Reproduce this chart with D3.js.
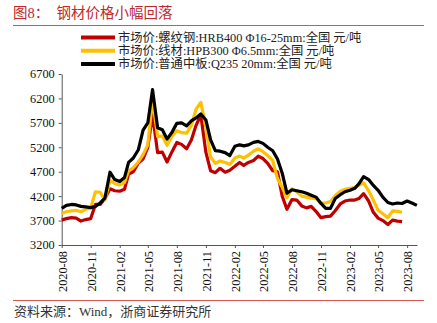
<!DOCTYPE html>
<html><head><meta charset="utf-8">
<script src="https://cdn.jsdelivr.net/npm/d3@7"></script>
<style>
body{margin:0;background:#fff;}
svg{display:block;font-family:"Liberation Serif","Noto Sans CJK SC",serif;}
</style></head><body>
<script>
// half-monthly observation dates from 2020-08-01
const startDate = "2020-08-01";
const nPoints = 75;
const rebarValues = [3710,3740,3760,3750,3690,3720,3740,4030,4030,4150,
 4350,4310,4300,4340,4650,4700,4880,4960,5200,5870,
 5090,5100,4900,5100,5300,5260,5170,5350,5650,5860,
 5100,4720,4680,4770,4690,4730,4810,4890,4830,4890,
 4930,5020,4970,4870,4720,4700,4200,3930,4130,4120,
 4000,3960,3990,3890,3760,3780,3790,3900,4040,4100,
 4120,4120,4150,4250,4100,3870,3750,3700,3620,3710,
 3690,3680];
const wireValues = [3850,3880,3900,3910,3880,3930,3960,4290,4280,4120,
 4520,4460,4430,4480,4720,4780,4900,5050,5250,6180,
 5420,5430,5240,5420,5540,5500,5490,5650,5980,6120,
 5620,5000,4870,4920,4890,4850,4980,5020,4980,5040,
 5120,5170,5110,5030,4930,4560,4380,4170,4350,4290,
 4200,4180,4160,4150,4060,4060,4090,4210,4300,4340,
 4360,4380,4420,4470,4310,4120,3910,3840,3760,3900,
 3890,3870];
const plateValues = [3950,4010,4030,4020,3990,3980,3965,3990,4060,4160,
 4690,4540,4500,4580,4890,4980,5150,5550,5700,6380,
 5600,5560,5370,5500,5690,5700,5640,5740,5800,5880,
 5760,5350,5130,5120,5090,5030,5220,5250,5230,5250,
 5300,5320,5280,5200,5130,4960,4670,4260,4330,4310,
 4290,4260,4220,4180,4050,3950,3950,4150,4230,4290,
 4320,4360,4450,4600,4540,4420,4320,4180,4070,4040,
 4060,4050,4100,4060,4010];
const seriesNames = ["市场价:螺纹钢:HRB400 Φ16-25mm:全国 元/吨","市场价:线材:HPB300 Φ6.5mm:全国 元/吨","市场价:普通中板:Q235 20mm:全国 元/吨"];
const seriesColors = ["#C00000","#FFC000","#000000"];
const yTicks = [3200,3700,4200,4700,5200,5700,6200,6700];
const xTickLabels = ["2020-08","2020-11","2021-02","2021-05","2021-08","2021-11","2022-02","2022-05","2022-08","2022-11","2023-02","2023-05","2023-08"];
const titleText = "图8：  钢材价格小幅回落";
const sourceText = "资料来源：Wind，浙商证券研究所";

const parse = d3.timeParse("%Y-%m-%d");
const d0 = parse(startDate);
const dates = d3.range(nPoints).map(i => {
  const m = d3.timeMonth.offset(d0, Math.floor(i/2));
  return i % 2 ? d3.timeDay.offset(m, 15) : m;
});

const W = 437, H = 323;
const svg = d3.select("body").append("svg").attr("width", W).attr("height", H);

const x = d3.scaleTime().domain([parse("2020-08-01"), parse("2023-09-01")]).range([61.7, 416.9]);
const y = d3.scaleLinear().domain([3200, 6700]).range([245, 74]);

// title
svg.append("text").attr("x", 13).attr("y", 18).attr("fill", "#C0282D")
  .attr("font-size", 14.5).attr("xml:space","preserve").style("white-space","pre").text(titleText);
svg.append("line").attr("x1", 13).attr("x2", 424).attr("y1", 25.5).attr("y2", 25.5)
  .attr("stroke", "#D9534F").attr("stroke-width", 1);

// legend
seriesNames.forEach((name, i) => {
  const ly = 37.5 + i * 13.2;
  svg.append("line").attr("x1", 81).attr("x2", 115).attr("y1", ly).attr("y2", ly)
    .attr("stroke", seriesColors[i]).attr("stroke-width", 4);
  svg.append("text").attr("x", 118).attr("y", ly + 4.2).attr("font-size", 12.3)
    .attr("fill", "#222").text(name);
});

// axes
const yAxis = d3.axisLeft(y).tickValues(yTicks).tickFormat(d3.format("d"))
  .tickSize(3).tickSizeOuter(0).tickPadding(4);
const gy = svg.append("g").attr("transform", "translate(61.7,0)").call(yAxis);
gy.selectAll("text").attr("font-size", 12.3).attr("fill", "#111")
  .attr("font-family", "Liberation Serif");
gy.select(".domain").attr("stroke", "#555");
gy.selectAll(".tick line").attr("stroke", "#555");

const xTickDates = xTickLabels.map(s => parse(s + "-01"));
const xAxis = d3.axisBottom(x).tickValues(xTickDates).tickFormat(d3.timeFormat("%Y-%m"))
  .tickSize(3).tickSizeOuter(0);
const gx = svg.append("g").attr("transform", "translate(0,245)").call(xAxis);
gx.select(".domain").attr("stroke", "#555");
gx.selectAll(".tick line").attr("stroke", "#555");
gx.selectAll("text").attr("font-size", 12.3).attr("fill", "#111")
  .attr("font-family", "Liberation Serif")
  .attr("transform", "rotate(-90)").attr("text-anchor", "end")
  .attr("x", -6).attr("y", 0).attr("dy", "0.35em");

// lines
const allSeries = [rebarValues, wireValues, plateValues];
const line = d3.line().x(d => x(d[0])).y(d => y(d[1]));
allSeries.forEach((vals, i) => {
  const pts = vals.map((v, j) => [dates[j], v]);
  svg.append("path").attr("d", line(pts)).attr("fill", "none")
    .attr("stroke", seriesColors[i]).attr("stroke-width", 3.2)
    .attr("stroke-linejoin", "round");
});

// bottom rule and source
svg.append("line").attr("x1", 13).attr("x2", 424).attr("y1", 300.5).attr("y2", 300.5)
  .attr("stroke", "#D9534F").attr("stroke-width", 1);
svg.append("text").attr("x", 14).attr("y", 316).attr("font-size", 13).attr("fill", "#333")
  .text(sourceText);
</script>
</body></html>
